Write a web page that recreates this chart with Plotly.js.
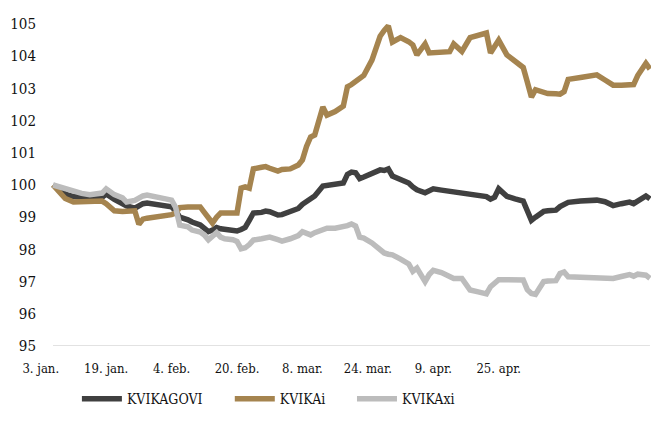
<!DOCTYPE html>
<html>
<head>
<meta charset="utf-8">
<script src="https://cdn.plot.ly/plotly-3.0.1.min.js"></script>
<style>html,body{margin:0;padding:0;background:#fff;}#chart{width:653px;height:422px;}</style>
</head>
<body>
<div id="chart"></div>
<script>
var dates = ["2022-01-06","2022-01-08","2022-01-09","2022-01-11","2022-01-13","2022-01-15","2022-01-17","2022-01-18","2022-01-19","2022-01-21",
"2022-01-23","2022-01-24","2022-01-26","2022-01-27","2022-01-28","2022-01-29","2022-01-31","2022-02-02","2022-02-04","2022-02-05",
"2022-02-06","2022-02-08","2022-02-09","2022-02-11","2022-02-12","2022-02-13","2022-02-14","2022-02-15","2022-02-16","2022-02-17",
"2022-02-19","2022-02-20","2022-02-21","2022-02-22","2022-02-23","2022-02-24","2022-02-26","2022-02-27","2022-02-28","2022-03-02",
"2022-03-03","2022-03-05","2022-03-07","2022-03-08","2022-03-09","2022-03-10","2022-03-11","2022-03-13","2022-03-14","2022-03-16",
"2022-03-18","2022-03-19","2022-03-20","2022-03-21","2022-03-22","2022-03-23","2022-03-25","2022-03-27","2022-03-28","2022-03-29",
"2022-03-30","2022-04-01","2022-04-03","2022-04-04","2022-04-05","2022-04-07","2022-04-08","2022-04-09","2022-04-11","2022-04-13",
"2022-04-14","2022-04-16","2022-04-18","2022-04-20","2022-04-22","2022-04-23","2022-04-24","2022-04-25","2022-04-27","2022-04-29",
"2022-05-01","2022-05-02","2022-05-03","2022-05-04","2022-05-06","2022-05-07","2022-05-09","2022-05-10","2022-05-11","2022-05-12",
"2022-05-15","2022-05-19","2022-05-21","2022-05-23","2022-05-25","2022-05-27","2022-05-28","2022-05-29","2022-05-31","2022-06-01"];

var kvikagovi = [100.00,99.85,99.72,99.64,99.62,99.60,99.62,99.62,99.72,99.55,
99.42,99.35,99.28,99.35,99.42,99.44,99.40,99.35,99.32,99.20,
99.00,98.92,98.85,98.76,98.68,98.55,98.60,98.68,98.64,98.62,
98.60,98.57,98.62,98.68,98.90,99.13,99.15,99.19,99.17,99.07,
99.08,99.16,99.27,99.40,99.50,99.57,99.66,99.97,99.98,100.00,
100.06,100.33,100.40,100.38,100.20,100.25,100.38,100.47,100.45,100.50,
100.28,100.18,100.06,99.94,99.85,99.76,99.82,99.88,99.84,99.80,
99.78,99.72,99.70,99.68,99.64,99.56,99.62,99.88,99.65,99.57,
99.50,99.20,98.90,99.00,99.18,99.20,99.22,99.33,99.42,99.46,
99.50,99.53,99.48,99.36,99.42,99.47,99.42,99.50,99.66,99.57];

var kvikai = [100.00,99.75,99.58,99.47,99.47,99.47,99.50,99.50,99.42,99.20,
99.18,99.18,99.20,98.78,98.94,98.97,99.00,99.05,99.08,99.13,
99.30,99.32,99.32,99.32,99.15,98.95,98.82,99.00,99.13,99.13,
99.13,99.13,99.90,99.94,99.90,100.50,100.55,100.57,100.52,100.43,
100.48,100.50,100.62,100.78,101.20,101.49,101.55,102.42,102.17,102.28,
102.45,103.05,103.12,103.20,103.30,103.40,103.88,104.62,104.80,104.94,
104.44,104.58,104.45,104.35,104.04,104.38,104.10,104.10,104.12,104.14,
104.38,104.15,104.58,104.65,104.72,104.10,104.30,104.50,104.04,103.85,
103.65,103.20,102.73,102.96,102.86,102.84,102.83,102.82,102.90,103.28,
103.34,103.42,103.26,103.10,103.10,103.10,103.12,103.40,103.78,103.60];

var kvikaxi = [100.00,99.92,99.88,99.78,99.74,99.70,99.74,99.75,99.88,99.70,
99.60,99.47,99.52,99.60,99.66,99.69,99.65,99.57,99.53,99.30,
98.75,98.70,98.60,98.54,98.45,98.30,98.40,98.52,98.38,98.33,
98.30,98.25,98.02,98.05,98.15,98.29,98.33,98.37,98.38,98.30,
98.26,98.33,98.43,98.55,98.52,98.45,98.52,98.60,98.66,98.66,
98.70,98.74,98.79,98.73,98.38,98.35,98.20,98.00,97.89,97.85,
97.83,97.70,97.55,97.32,97.42,97.00,97.22,97.35,97.28,97.16,
97.10,97.10,96.74,96.68,96.62,96.84,96.95,97.06,97.06,97.05,
97.05,96.75,96.63,96.60,97.00,97.02,97.03,97.25,97.30,97.15,
97.14,97.14,97.14,97.10,97.16,97.22,97.17,97.23,97.20,97.10];

var tickDates = ["2022-01-03","2022-01-19","2022-02-04","2022-02-20","2022-03-08","2022-03-24","2022-04-09","2022-04-25"];
var tickLabels = ["3. jan.","19. jan.","4. feb.","20. feb.","8. mar.","24. mar.","9. apr.","25. apr."];
var yTicks = [95,96,97,98,99,100,101,102,103,104,105];

var seriesNames = ["KVIKAGOVI","KVIKAi","KVIKAxi"];
var seriesValues = [kvikagovi, kvikai, kvikaxi];
var seriesColors = ["#404040","#A5844F","#BCBCBC"];
var legendIds = ["legend","legend2","legend3"];

var traces = seriesNames.map(function(n, i){
  return {x: dates, y: seriesValues[i], name: n, type: "scatter", mode: "lines", legend: legendIds[i],
          line: {color: seriesColors[i], width: 5.5, shape: "linear"}, hoverinfo: "x+y"};
});

var FAM = "DejaVu Serif Condensed, DejaVu Serif";

function legendAt(xp){
  return {orientation: "h", x: xp, xanchor: "left", y: -0.165, yanchor: "middle", itemwidth: 40,
          font: {family: FAM, color: "#111111", size: 14}, bgcolor: "rgba(0,0,0,0)"};
}

var layout = {
  width: 653, height: 422,
  margin: {l: 37, r: 2, t: 24, b: 76},
  paper_bgcolor: "#ffffff", plot_bgcolor: "#ffffff",
  showlegend: true,
  font: {family: FAM, color: "#111111"},
  xaxis: {type: "date", range: ["2022-01-02 02:00", "2022-06-01 06:00"],
          tickmode: "array", tickvals: tickDates, ticktext: tickLabels,
          showgrid: false, zeroline: false, showline: false,
          ticks: "outside", ticklen: 10, tickcolor: "rgba(0,0,0,0)",
          tickfont: {family: FAM, color: "#111111", size: 13}},
  yaxis: {range: [95, 105], tickmode: "array", tickvals: yTicks,
          showgrid: false, zeroline: false, showline: false,
          ticks: "", tickfont: {family: FAM, color: "#111111", size: 15}},
  shapes: [{type: "line", xref: "x", yref: "y", x0: dates[0], x1: dates[dates.length-1], y0: 95, y1: 95,
            line: {color: "#d9d9d9", width: 1.5}, layer: "below"}],
  legend: legendAt(0.065),
  legend2: legendAt(0.314),
  legend3: legendAt(0.513)
};

Plotly.newPlot("chart", traces, layout, {displayModeBar: false, staticPlot: true});
</script>
</body>
</html>
